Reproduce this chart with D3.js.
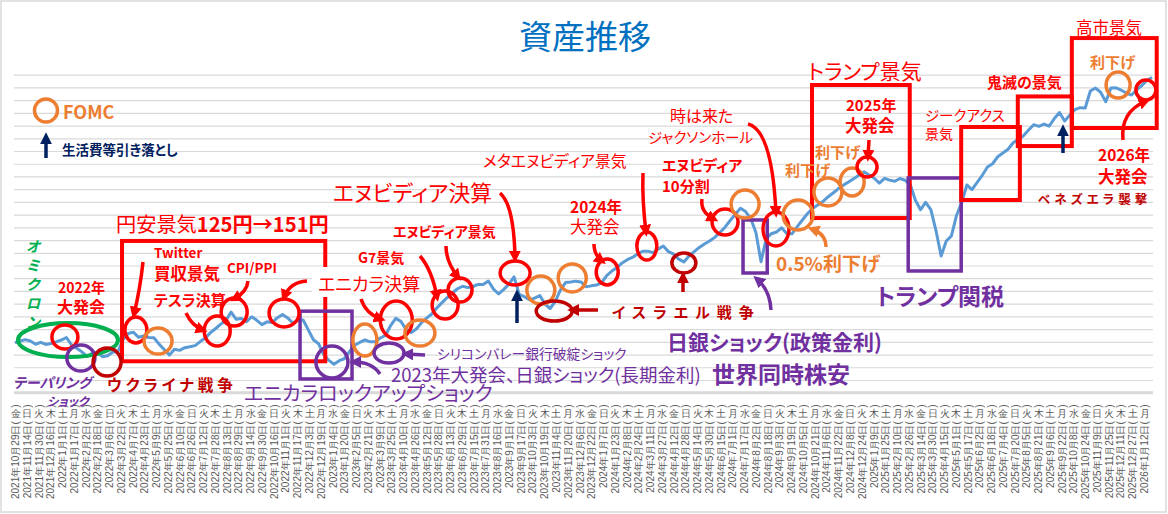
<!DOCTYPE html>
<html>
<head>
<meta charset="utf-8">
<script src="https://cdn.jsdelivr.net/npm/d3@7"></script>
<style>
body { margin: 0; background: #fff; }
svg { display: block; font-family: "Noto Sans CJK JP", "Noto Sans", sans-serif; }
svg text { font-feature-settings: "palt"; }
</style>
</head>
<body>
<svg id="chart" width="1168" height="514"></svg>
<script>
// weekly asset values (one per week from startDate), in grid units
const startDate = new Date(2021, 9, 29);
const lastTickDate = new Date(2026, 0, 12);
const weeklyValues = [
  3.93, 4.06, 4.17, 4.06, 3.81, 3.96, 3.79, 3.87, 4.00, 4.14,
  4.34, 3.75, 3.49, 3.21, 2.85, 3.11, 3.18, 2.83, 2.91, 3.20,
  3.22, 4.18, 4.66, 4.76, 4.36, 4.47, 4.34, 4.32, 3.82, 3.39,
  2.96, 3.42, 3.33, 3.54, 3.62, 3.70, 4.02, 4.31, 4.72, 5.05,
  5.39, 5.68, 6.34, 5.77, 5.84, 5.58, 5.97, 5.69, 5.35, 5.57,
  5.51, 5.90, 6.15, 5.88, 5.48, 5.72, 5.72, 4.94, 4.16, 3.85,
  3.00, 2.54, 2.24, 2.52, 2.67, 3.22, 3.73, 3.95, 4.15, 4.00,
  4.01, 4.30, 4.50, 5.28, 5.84, 5.61, 4.98, 4.74, 5.01, 5.50,
  5.86, 6.19, 6.67, 7.08, 7.48, 7.84, 8.17, 8.37, 8.26, 8.35,
  8.51, 8.51, 8.78, 8.14, 7.76, 8.12, 8.54, 9.10, 7.73, 7.55,
  7.30, 7.44, 7.64, 6.97, 6.62, 7.17, 8.07, 8.66, 8.70, 8.77,
  8.71, 8.32, 8.40, 8.46, 8.64, 9.21, 9.56, 9.84, 10.20, 10.46,
  10.63, 10.90, 11.12, 11.13, 11.01, 11.29, 11.53, 11.09, 10.89, 10.50,
  10.28, 10.75, 11.09, 11.42, 11.69, 11.93, 12.21, 12.59, 13.01, 13.54,
  14.03, 14.50, 14.24, 13.69, 12.59, 10.30, 12.12, 12.50, 12.63, 12.97,
  12.52, 12.49, 13.03, 13.56, 14.07, 14.48, 14.76, 15.03, 15.39, 15.70,
  16.03, 16.32, 16.56, 16.82, 17.09, 17.36, 17.12, 16.86, 16.47, 16.85,
  16.71, 16.62, 16.84, 16.70, 16.35, 15.13, 14.39, 14.96, 14.39, 12.75,
  10.75, 11.93, 12.33, 13.95, 14.95, 16.33, 15.97, 16.53, 17.09, 17.74,
  18.00, 18.55, 18.84, 19.14, 19.65, 19.91, 20.20, 20.65, 21.07, 20.94,
  21.12, 20.95, 21.56, 22.03, 21.36, 21.81, 22.26, 22.41, 22.38, 23.72,
  23.95, 23.62, 22.88, 23.95, 23.97, 23.78, 23.56, 23.40, 23.80, 24.15,
  24.55, 24.78
];
const tickStepDays = 16;
const tickCount = 97;
const weekdayNames = ["日", "月", "火", "水", "木", "金", "土"];

// circles drawn on the line: [week index, value, rx, ry, colour]
const rings = [
  [10.3, 4.14, 50, 17, "#00B050"],
  [9.7, 4.38, 13, 12, "#FF0000"],
  [12.8, 2.73, 14, 13, "#7030A0"],
  [17.9, 2.41, 14, 14, "#C00000"],
  [23.5, 4.93, 11, 13, "#FF0000"],
  [27.8, 4.06, 14, 13, "#ED7D31"],
  [39.3, 4.85, 13, 15, "#FF0000"],
  [42.6, 6.34, 13, 14, "#FF0000"],
  [52.3, 6.27, 15, 14, "#FF0000"],
  [61.6, 2.41, 16, 16, "#7030A0"],
  [68.0, 4.14, 12, 16, "#ED7D31"],
  [72.7, 3.12, 15, 10, "#7030A0"],
  [74.1, 5.72, 16, 19, "#FF0000"],
  [78.7, 4.69, 15, 13, "#ED7D31"],
  [83.6, 6.89, 13, 14, "#FF0000"],
  [86.5, 8.07, 12, 12, "#FF0000"],
  [97.2, 9.41, 15, 12, "#FF0000"],
  [102.2, 8.07, 14, 14, "#ED7D31"],
  [104.8, 6.42, 18, 10, "#C00000"],
  [108.3, 9.02, 14, 14, "#ED7D31"],
  [115.1, 9.49, 11, 13, "#FF0000"],
  [122.8, 11.53, 10, 14, "#FF0000"],
  [130.0, 10.20, 12, 10, "#C00000"],
  [138.0, 13.42, 13, 13, "#FF0000"],
  [141.9, 14.83, 14, 14, "#ED7D31"],
  [147.9, 12.87, 13, 17, "#FF0000"],
  [152.2, 13.97, 15, 15, "#ED7D31"],
  [158.0, 15.78, 14, 14, "#ED7D31"],
  [162.7, 16.56, 12, 14, "#ED7D31"],
  [165.6, 17.74, 10, 10, "#FF0000"],
  [214.4, 24.19, 12, 13, "#ED7D31"],
  [219.8, 23.80, 10, 10, "#FF0000"]
];

// period boxes: [from week, to week, top value, bottom value, colour]
const boxes = [
  [20.8, 60.3, 11.93, 2.47, "#FF0000"],
  [55.4, 65.5, 6.41, 1.08, "#7030A0"],
  [141.5, 146.2, 13.58, 9.41, "#7030A0"],
  [154.9, 173.9, 24.19, 13.73, "#FF0000"],
  [173.6, 183.9, 16.88, 9.57, "#7030A0"],
  [183.9, 195.3, 20.89, 15.15, "#FF0000"],
  [194.9, 205.4, 23.29, 19.39, "#FF0000"],
  [205.4, 221.9, 27.88, 20.81, "#FF0000"]
];

// labels: [text, x, y(centre), size, colour, weight, extra]
const labels = [
  ["FOMC", 63, 111, 18, "#ED7D31", "bold"],
  ["生活費等引き落とし", 62, 149, 13.5, "#002060", "bold"],
  ["Twitter", 154, 252, 13.5, "#FF0000", "bold"],
  ["買収景気", 154, 273, 16.5, "#FF0000", "bold"],
  ["CPI/PPI", 227, 267, 13.5, "#FF0000", "bold"],
  ["テスラ決算", 154, 299, 15, "#FF0000", "bold"],
  ["2022年", 58, 287, 14, "#FF0000", "bold"],
  ["大発会", 57, 306, 16, "#FF0000", "bold"],
  ["テーパリング", 13, 382, 14, "#7030A0", "bold", "italic"],
  ["ショック", 47, 400, 12, "#7030A0", "bold", "italic"],
  ["ウクライナ戦争", 107, 384, 15.5, "#C00000", "bold", "spaced"],
  ["G7景気", 358, 257, 14, "#FF0000", "bold"],
  ["エヌビディア景気", 393, 231, 14, "#FF0000", "bold"],
  ["エヌビディア決算", 333, 191, 21.8, "#FF0000", "normal"],
  ["メタエヌビディア景気", 483, 160, 15.9, "#FF0000", "normal"],
  ["2024年", 570, 206, 15.5, "#FF0000", "bold"],
  ["大発会", 570, 226, 16.5, "#FF0000", "normal"],
  ["時は来た", 670, 115, 16, "#FF0000", "normal"],
  ["ジャクソンホール", 648, 136, 14.5, "#FF0000", "normal"],
  ["エヌビディア", 662, 164, 15, "#FF0000", "bold"],
  ["10分割", 662, 185, 15, "#FF0000", "bold"],
  ["トランプ景気", 808, 70, 21, "#FF0000", "normal"],
  ["2025年", 846, 104, 15, "#FF0000", "bold"],
  ["大発会", 845, 124.5, 16.5, "#FF0000", "bold"],
  ["利下げ", 815, 151, 15, "#ED7D31", "bold"],
  ["利下げ", 785, 169, 15, "#ED7D31", "bold"],
  ["0.5%利下げ", 776, 262, 19, "#ED7D31", "bold"],
  ["ジークアクス", 925, 114, 14.5, "#FF0000", "normal"],
  ["景気", 925, 133, 14, "#FF0000", "normal"],
  ["鬼滅の景気", 987, 81, 15, "#FF0000", "bold"],
  ["高市景気", 1076, 27, 16.5, "#FF0000", "normal"],
  ["利下げ", 1090, 61, 15, "#ED7D31", "bold"],
  ["2026年", 1098, 154, 15.5, "#FF0000", "bold"],
  ["大発会", 1098, 176, 16.5, "#FF0000", "bold"],
  ["ベネズエラ襲撃", 1038, 198, 12.5, "#C00000", "bold", "spaced"],
  ["トランプ関税", 876, 295, 23, "#7030A0", "bold"],
  ["日銀ショック(政策金利)", 667, 341, 21, "#7030A0", "bold"],
  ["世界同時株安", 712, 373, 23, "#7030A0", "bold"],
  ["2023年大発会、日銀ショック(長期金利)", 391, 374, 18.5, "#7030A0", "normal"],
  ["シリコンバレー銀行破綻ショック", 437, 353, 13.8, "#7030A0", "normal"],
  ["イスラエル戦争", 612, 311, 15, "#C00000", "bold", "wide"],
  ["エニカラロックアップショック", 244, 392, 20.2, "#7030A0", "normal"]
];

// arrows: [svg path, colour]
const arrows = [
  ["M143,262 Q140,290 134,314", "#FF0000"],
  ["M186,313 Q192,326 203,330", "#FF0000"],
  ["M248,281 Q247,292 234,299", "#FF0000"],
  ["M307,281 Q290,282 284,297", "#FF0000"],
  ["M361,299 Q366,314 381,319", "#FF0000"],
  ["M420,256 Q432,270 437,297", "#FF0000"],
  ["M446,246 Q446,262 458,277", "#FF0000"],
  ["M500,193 Q514,205 515,258", "#FF0000"],
  ["M594,244 Q594,255 602,261", "#FF0000"],
  ["M643,173 Q642,200 646,232", "#FF0000"],
  ["M702,199 Q700,212 714,219", "#FF0000"],
  ["M748,124 Q772,130 776,213", "#FF0000"],
  ["M869,140 L868,157", "#FF0000"],
  ["M1123,140 Q1120,112 1146,101", "#FF0000"],
  ["M826,247 Q826,234 812,229", "#ED7D31"],
  ["M46,158 L46,137", "#002060"],
  ["M517,323 L517,294", "#002060"],
  ["M1063,153 L1063,129", "#002060"],
  ["M683,292 L683,276", "#C00000"],
  ["M598,310 L572,310", "#C00000"],
  ["M425,355 L406,354", "#7030A0"],
  ["M380,374 Q372,362 354,362", "#7030A0"],
  ["M771,310 Q770,290 757,279", "#7030A0"]
];

const svg = d3.select("#chart");
const left = 14, right = 1153;

const x = d3.scaleTime().domain([startDate, lastTickDate]).range([15, 1144]);
const y = d3.scaleLinear().domain([0, 25]).range([392.7, 74.7]);
const weekDate = i => new Date(+startDate + i * 7 * 864e5);
const xw = i => x(weekDate(i));

// chart border
svg.append("rect").attr("x", 1).attr("y", 1).attr("width", 1165).attr("height", 511)
  .attr("fill", "none").attr("stroke", "#D9D9D9").attr("stroke-width", 1.5);

// horizontal gridlines
const grid = svg.append("g").attr("transform", `translate(${left},0)`)
  .call(d3.axisRight(y).ticks(25).tickSize(right - left).tickFormat(""));
grid.select(".domain").remove();
grid.selectAll(".tick line").attr("stroke", "#D9D9D9").attr("stroke-width", 1.2);
grid.selectAll(".tick").filter(d => d === 0).remove();

// category axis with vertical date labels
const tickDates = d3.range(tickCount).map(k => d3.timeDay.offset(startDate, tickStepDays * k));
const xAxis = svg.append("g").attr("transform", `translate(0,${y(0)})`)
  .call(d3.axisBottom(x).tickValues(tickDates).tickSize(0).tickFormat(""));
xAxis.select(".domain").attr("d", `M${left},0H${right}`).attr("stroke", "#D9D9D9").attr("stroke-width", 3);
const tk = xAxis.selectAll(".tick");
tk.append("text")
  .attr("transform", "translate(3.5,28.5) rotate(-90)")
  .attr("text-anchor", "end")
  .attr("fill", "#595959").attr("font-size", 10)
  .text(d => `${d.getFullYear()}年${d.getMonth() + 1}月${d.getDate()}日(`);
tk.append("text")
  .attr("y", 20.5).attr("text-anchor", "middle").attr("dominant-baseline", "central")
  .attr("fill", "#595959").attr("font-size", 10)
  .text(d => weekdayNames[d.getDay()]);
tk.append("text")
  .attr("transform", "translate(3.5,15) rotate(-90)")
  .attr("text-anchor", "start")
  .attr("fill", "#595959").attr("font-size", 10)
  .text(")");

// title
svg.append("text").attr("x", 585).attr("y", 35).attr("text-anchor", "middle")
  .attr("dominant-baseline", "central").attr("font-size", 33).attr("fill", "#0070C0")
  .text("資産推移");

// asset line
const line = d3.line().x((d, i) => xw(i)).y(d => y(d));
svg.append("path").datum(weeklyValues).attr("d", line)
  .attr("fill", "none").attr("stroke", "#5B9BD5").attr("stroke-width", 3)
  .attr("stroke-linejoin", "round");

// boxes
svg.append("g").selectAll("rect").data(boxes).join("rect")
  .attr("x", d => xw(d[0])).attr("y", d => y(d[2]))
  .attr("width", d => xw(d[1]) - xw(d[0])).attr("height", d => y(d[3]) - y(d[2]))
  .attr("fill", "none").attr("stroke", d => d[4]).attr("stroke-width", d => d[4] === "#FF0000" ? 4 : 3.5);

// rings
svg.append("g").selectAll("ellipse").data(rings).join("ellipse")
  .attr("cx", d => xw(d[0])).attr("cy", d => y(d[1]))
  .attr("rx", d => d[2]).attr("ry", d => d[3])
  .attr("fill", "none").attr("stroke", d => d[4]).attr("stroke-width", d => d[4] === "#00B050" ? 4 : 3.5);

// legend ring
svg.append("circle").attr("cx", 46).attr("cy", 110.5).attr("r", 11.5)
  .attr("fill", "none").attr("stroke", "#ED7D31").attr("stroke-width", 3.5);

// white text box behind エニカラ決算 (covers box edge like the original)
svg.append("rect").attr("x", 312).attr("y", 267).attr("width", 98).attr("height", 30).attr("fill", "#fff");
svg.append("text").attr("x", 318).attr("y", 283).attr("dominant-baseline", "central")
  .attr("font-size", 18).attr("fill", "#FF0000").text("エニカラ決算");

// arrow heads
const defs = svg.append("defs");
const colours = Array.from(new Set(arrows.map(a => a[1])));
colours.forEach((c, k) => {
  defs.append("marker").attr("id", "ah" + k)
    .attr("viewBox", "0 0 10 10").attr("refX", 6).attr("refY", 5)
    .attr("markerWidth", 12).attr("markerHeight", 12).attr("markerUnits", "userSpaceOnUse")
    .attr("orient", "auto")
    .append("path").attr("d", "M0,0 L10,5 L0,10 Z").attr("fill", c);
});
svg.append("g").selectAll("path").data(arrows).join("path")
  .attr("d", d => d[0]).attr("fill", "none")
  .attr("stroke", d => d[1]).attr("stroke-width", 3.5)
  .attr("marker-end", d => `url(#ah${colours.indexOf(d[1])})`);

// labels
svg.append("g").selectAll("text").data(labels).join("text")
  .attr("x", d => d[1]).attr("y", d => d[2])
  .attr("dominant-baseline", "central")
  .attr("font-size", d => d[3]).attr("fill", d => d[4]).attr("font-weight", d => d[5])
  .attr("font-style", d => d[6] === "italic" ? "italic" : null)
  .attr("letter-spacing", d => d[6] === "spaced" ? 4 : d[6] === "wide" ? 7 : null)
  .text(d => d[0]);

// vertical オミクロン (single vertical text)
svg.append("text")
  .attr("x", 33).attr("y", 239)
  .style("writing-mode", "vertical-rl").style("text-orientation", "upright")
  .style("font-feature-settings", "normal")
  .attr("letter-spacing", 4)
  .attr("font-size", 15).attr("font-weight", "bold").attr("font-style", "italic")
  .attr("fill", "#00B050").text("オミクロン");

// 円安景気 heading
svg.append("text").attr("x", 116).attr("y", 223).attr("dominant-baseline", "central")
  .attr("font-size", 20.2).attr("fill", "#FF0000")
  .call(t => {
    t.append("tspan").text("円安景気");
    t.append("tspan").attr("font-weight", "bold").text("125円→151円");
  });
</script>
</body>
</html>
